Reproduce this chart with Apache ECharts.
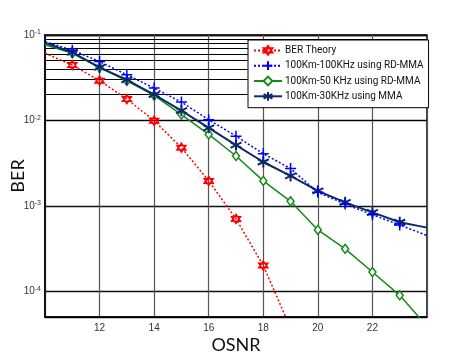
<!DOCTYPE html>
<html>
<head>
<meta charset="utf-8">
<script src="https://cdn.jsdelivr.net/npm/echarts@6/dist/echarts.min.js"></script>
<style>html,body{margin:0;padding:0;background:#fff;}#c{width:474px;height:363px;}</style>
</head>
<body>
<div id="c"></div>
<script>
// ---- data ----
var osnr = [10, 11, 12, 13, 14, 15, 16, 17, 18, 19, 20, 21, 22, 23, 24];
var berTheory = [0.0612, 0.0444, 0.0292, 0.0178, 0.0099, 0.0048, 0.00196, 0.000703, 0.0002, 0.000037];
var ber100k = [0.0835, 0.0664, 0.0489, 0.0342, 0.0239, 0.0164, 0.0102, 0.00655, 0.00408, 0.00273, 0.00144, 0.00105, 0.000787, 0.000597, 0.000449];
var ber50k = [0.077, 0.0612, 0.0416, 0.0291, 0.0196, 0.0117, 0.00686, 0.00383, 0.00196, 0.00113, 0.000522, 0.000314, 0.000168, 0.0000897, 0.000039];
var ber30k = [0.081, 0.0625, 0.0417, 0.0299, 0.0200, 0.0130, 0.0082, 0.00514, 0.00326, 0.00224, 0.0015, 0.0011, 0.00084, 0.000643, 0.000556];
var seriesNames = ['BER Theory', '100Km-100KHz using RD-MMA', '100Km-50 KHz using RD-MMA', '100Km-30KHz using MMA'];
var xTicks = [12, 14, 16, 18, 20, 22];
var decades = [-5, -4, -3, -2];
var minorMult = [2, 3, 4, 5, 6, 7, 8, 9];

// ---- helpers ----
function pairs(ys) {
  return ys.map(function (v, i) {
    var item = { value: [osnr[i], v] };
    if (i === 0 || i === osnr.length - 1 || v < 5e-5) item.symbol = 'none';
    return item;
  });
}
var minorLines = [];
decades.forEach(function (d) {
  minorMult.forEach(function (m) {
    var v = m * Math.pow(10, d);
    if (v > 5e-5 && v < 0.1) minorLines.push({ yAxis: v });
  });
});

var hexagram = 'path://M0,-10L8.66,5L-8.66,5Z M0,10L8.66,-5L-8.66,-5Z';
var plus = 'path://M0,-10L0,10M-10,0L10,0';
var asterisk = 'path://M0,-10L0,10M-8.66,-5L8.66,5M-8.66,5L8.66,-5';

var RED = '#ff0000', BLUE = '#0000ff', GREEN = '#158a15', NAVY = '#0c2a68';

var chart = echarts.init(document.getElementById('c'), null, { renderer: 'canvas' });
chart.setOption({
  animation: false,
  backgroundColor: '#fff',
  textStyle: { fontFamily: 'Liberation Sans, Arial, sans-serif' },
  grid: { left: 45, right: 47, top: 35, bottom: 46, outerBoundsMode: 'none', containLabel: false,
    show: true, borderColor: '#000', borderWidth: 1.5, backgroundColor: '#fff' },
  xAxis: {
    type: 'value', min: 10, max: 24, interval: 2,
    name: 'OSNR', nameLocation: 'middle', nameGap: 19, nameMoveOverlap: false,
    nameTextStyle: { fontFamily: 'Lato', fontSize: 18, color: '#111' },
    axisLine: { show: true, lineStyle: { color: '#000', width: 1.5 } },
    axisTick: { show: false },
    axisLabel: {
      color: '#333', fontSize: 10, margin: 6,
      formatter: function (v) { return xTicks.indexOf(v) >= 0 ? String(v) : ''; }
    },
    splitLine: { show: true, lineStyle: { color: '#555', width: 1.2 } }
  },
  yAxis: {
    type: 'log', logBase: 10, min: 5e-5, max: 0.1,
    name: 'BER', nameLocation: 'middle', nameGap: 18, nameRotate: 90, nameMoveOverlap: false,
    nameTextStyle: { fontFamily: 'Lato', fontSize: 18, color: '#111' },
    axisLine: { show: true, lineStyle: { color: '#000', width: 1.5 } },
    axisTick: { show: false },
    axisLabel: {
      margin: 4,
      formatter: function (v) {
        var e = Math.log10(v);
        if (Math.abs(e - Math.round(e)) > 1e-6) return '';
        return '{b|10}{s|' + Math.round(e) + '}';
      },
      rich: {
        b: { fontSize: 10, color: '#333', lineHeight: 12 },
        s: { fontSize: 7, color: '#333', verticalAlign: 'top', lineHeight: 12, padding: [0, 0, 6, 0] }
      }
    },
    splitLine: { show: true, lineStyle: { color: '#111', width: 1.3 } }
  },
  legend: {
    orient: 'vertical', left: 248, top: 40, z: 20,
    backgroundColor: '#fff', borderColor: '#000', borderWidth: 1,
    padding: [5, 5, 6, 5], itemGap: 4.5, itemWidth: 28, itemHeight: 11,
    textStyle: { fontSize: 10, fontFamily: 'Roboto, Liberation Sans, sans-serif', color: '#111', padding: [0, 0, 0, -2] },
    data: seriesNames
  },
  series: [
    {
      name: 'grid-minor', type: 'line', data: [], silent: true, z: 1,
      markLine: { silent: true, z: 1, symbol: 'none', label: { show: false },
        lineStyle: { color: '#000', width: 1, type: 'solid' }, data: minorLines }
    },
    {
      name: seriesNames[0], type: 'line', data: pairs(berTheory), z: 3,
      symbol: hexagram, symbolSize: 9,
      lineStyle: { color: RED, width: 1.5, type: [2, 2] },
      itemStyle: { color: '#ff8080', borderColor: RED, borderWidth: 1.5 }
    },
    {
      name: seriesNames[1], type: 'line', data: pairs(ber100k), z: 4,
      symbol: plus, symbolSize: 11,
      lineStyle: { color: BLUE, width: 1.5, type: [2, 2] },
      itemStyle: { color: BLUE, borderColor: BLUE, borderWidth: 1.5 }
    },
    {
      name: seriesNames[2], type: 'line', data: pairs(ber50k), z: 3,
      symbol: 'diamond', symbolSize: [7, 9],
      lineStyle: { color: GREEN, width: 1.5 },
      itemStyle: { color: '#fff', borderColor: GREEN, borderWidth: 1.5 }
    },
    {
      name: seriesNames[3], type: 'line', data: pairs(ber30k), z: 3,
      symbol: asterisk, symbolSize: 11,
      lineStyle: { color: NAVY, width: 2 },
      itemStyle: { color: NAVY, borderColor: NAVY, borderWidth: 2 }
    }
  ]
});
</script>
</body>
</html>
